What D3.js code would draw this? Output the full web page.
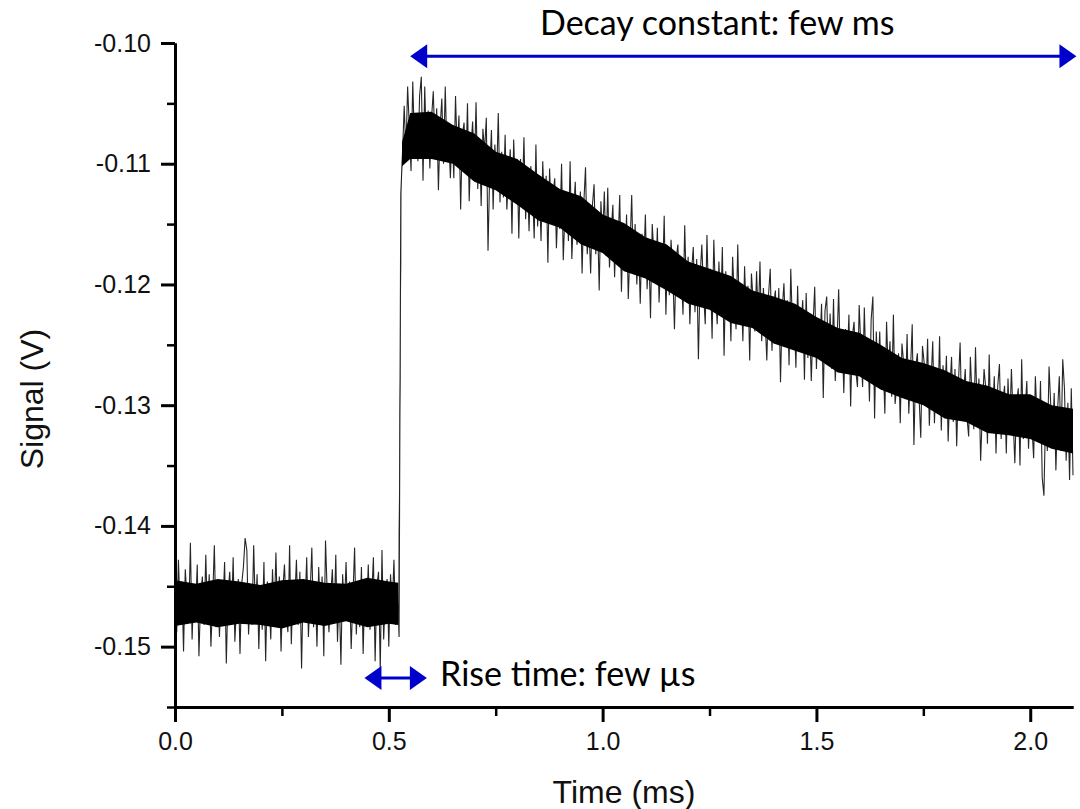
<!DOCTYPE html>
<html>
<head>
<meta charset="utf-8">
<script src="https://cdn.jsdelivr.net/npm/d3@7"></script>
<style>
  body { margin: 0; background: #fff; }
  svg { display: block; }
  .tick text { font-family: 'Liberation Sans', Arial, sans-serif; font-size: 25px; fill: #111; }
  .axis path, .axis line { stroke: #000; }
</style>
</head>
<body>
<div id="chart"></div>
<script>
// sampling interval of the trace (ms)
const timeStep = 0.004

// signal before the trigger, 0 .. 0.524 ms (V)
const preTrigger = [
  -0.1454, -0.1488, -0.1428, -0.1470, -0.1446, -0.1504, -0.1436, -0.1460, -0.1480, -0.1414,
  -0.1494, -0.1450, -0.1472, -0.1432, -0.1508, -0.1458, -0.1442, -0.1482, -0.1424, -0.1476,
  -0.1440, -0.1500, -0.1462, -0.1416, -0.1484, -0.1452, -0.1492, -0.1446, -0.1468, -0.1430,
  -0.1514, -0.1456, -0.1438, -0.1478, -0.1426, -0.1496, -0.1464, -0.1444, -0.1506, -0.1448,
  -0.1434, -0.1410, -0.1420, -0.1490, -0.1458, -0.1482, -0.1416, -0.1472, -0.1440, -0.1502,
  -0.1452, -0.1486, -0.1430, -0.1512, -0.1446, -0.1460, -0.1494, -0.1436, -0.1476, -0.1422,
  -0.1480, -0.1442, -0.1504, -0.1454, -0.1432, -0.1470, -0.1488, -0.1416, -0.1498, -0.1450,
  -0.1462, -0.1428, -0.1482, -0.1438, -0.1518, -0.1444, -0.1468, -0.1426, -0.1492, -0.1456,
  -0.1418, -0.1484, -0.1452, -0.1500, -0.1434, -0.1474, -0.1442, -0.1508, -0.1412, -0.1456,
  -0.1488, -0.1458, -0.1436, -0.1480, -0.1424, -0.1496, -0.1454, -0.1515, -0.1440, -0.1470,
  -0.1430, -0.1478, -0.1446, -0.1502, -0.1460, -0.1418, -0.1490, -0.1452, -0.1484, -0.1434,
  -0.1506, -0.1448, -0.1472, -0.1432, -0.1486, -0.1458, -0.1426, -0.1512, -0.1450, -0.1438,
  -0.1520, -0.1420, -0.1494, -0.1456, -0.1444, -0.1500, -0.1440, -0.1468, -0.1428, -0.1482,
  -0.1448, -0.1492
]

// signal from the rising edge on, 0.528 .. 2.100 ms (V)
const postTrigger = [
  -0.1125, -0.1092, -0.1052, -0.1092, -0.1036, -0.1070, -0.1106, -0.1032, -0.1084, -0.1058,
  -0.1098, -0.1044, -0.1028, -0.1114, -0.1036, -0.1088, -0.1056, -0.1104, -0.1062, -0.1040,
  -0.1086, -0.1054, -0.1122, -0.1070, -0.1046, -0.1100, -0.1036, -0.1094, -0.1078, -0.1112,
  -0.1070, -0.1112, -0.1044, -0.1092, -0.1060, -0.1138, -0.1076, -0.1066, -0.1106, -0.1050,
  -0.1131, -0.1087, -0.1065, -0.1107, -0.1049, -0.1121, -0.1079, -0.1135, -0.1071, -0.1089,
  -0.1062, -0.1172, -0.1106, -0.1072, -0.1138, -0.1084, -0.1114, -0.1058, -0.1132, -0.1090,
  -0.1128, -0.1076, -0.1138, -0.1110, -0.1088, -0.1158, -0.1080, -0.1122, -0.1096, -0.1162,
  -0.1096, -0.1130, -0.1078, -0.1146, -0.1112, -0.1156, -0.1102, -0.1122, -0.1162, -0.1084,
  -0.1152, -0.1118, -0.1164, -0.1098, -0.1138, -0.1110, -0.1182, -0.1104, -0.1146, -0.1126,
  -0.1112, -0.1170, -0.1130, -0.1154, -0.1100, -0.1180, -0.1138, -0.1124, -0.1164, -0.1098,
  -0.1179, -0.1141, -0.1115, -0.1167, -0.1153, -0.1123, -0.1191, -0.1133, -0.1103, -0.1175,
  -0.1151, -0.1191, -0.1135, -0.1117, -0.1175, -0.1145, -0.1205, -0.1131, -0.1163, -0.1123,
  -0.1176, -0.1120, -0.1186, -0.1156, -0.1134, -0.1194, -0.1148, -0.1168, -0.1126, -0.1206,
  -0.1154, -0.1182, -0.1142, -0.1212, -0.1170, -0.1126, -0.1190, -0.1150, -0.1200, -0.1164,
  -0.1216, -0.1158, -0.1186, -0.1142, -0.1204, -0.1170, -0.1228, -0.1150, -0.1176, -0.1198,
  -0.1153, -0.1215, -0.1179, -0.1197, -0.1143, -0.1225, -0.1169, -0.1209, -0.1163, -0.1189,
  -0.1237, -0.1179, -0.1167, -0.1209, -0.1191, -0.1225, -0.1151, -0.1207, -0.1177, -0.1233,
  -0.1189, -0.1169, -0.1223, -0.1179, -0.1262, -0.1193, -0.1167, -0.1207, -0.1233, -0.1159,
  -0.1217, -0.1187, -0.1245, -0.1163, -0.1209, -0.1233, -0.1181, -0.1223, -0.1169, -0.1259,
  -0.1189, -0.1227, -0.1199, -0.1247, -0.1177, -0.1211, -0.1237, -0.1167, -0.1231, -0.1203,
  -0.1247, -0.1185, -0.1227, -0.1201, -0.1263, -0.1191, -0.1213, -0.1239, -0.1189, -0.1231,
  -0.1181, -0.1247, -0.1203, -0.1229, -0.1263, -0.1209, -0.1187, -0.1255, -0.1217, -0.1205,
  -0.1249, -0.1203, -0.1281, -0.1221, -0.1199, -0.1241, -0.1213, -0.1267, -0.1187, -0.1237,
  -0.1223, -0.1269, -0.1201, -0.1253, -0.1233, -0.1213, -0.1279, -0.1207, -0.1261, -0.1231,
  -0.1280, -0.1234, -0.1202, -0.1270, -0.1228, -0.1252, -0.1216, -0.1294, -0.1222, -0.1210,
  -0.1262, -0.1224, -0.1270, -0.1212, -0.1280, -0.1250, -0.1204, -0.1268, -0.1238, -0.1290,
  -0.1237, -0.1263, -0.1225, -0.1301, -0.1243, -0.1231, -0.1271, -0.1285, -0.1217, -0.1253,
  -0.1285, -0.1219, -0.1273, -0.1247, -0.1297, -0.1229, -0.1210, -0.1311, -0.1239, -0.1279,
  -0.1239, -0.1287, -0.1261, -0.1307, -0.1231, -0.1273, -0.1247, -0.1293, -0.1225, -0.1299,
  -0.1283, -0.1257, -0.1315, -0.1249, -0.1265, -0.1295, -0.1241, -0.1307, -0.1271, -0.1233,
  -0.1333, -0.1269, -0.1257, -0.1293, -0.1327, -0.1251, -0.1265, -0.1291, -0.1245, -0.1317,
  -0.1281, -0.1247, -0.1315, -0.1273, -0.1303, -0.1243, -0.1321, -0.1267, -0.1293, -0.1259,
  -0.1330, -0.1288, -0.1260, -0.1314, -0.1270, -0.1334, -0.1282, -0.1248, -0.1312, -0.1292,
  -0.1270, -0.1310, -0.1326, -0.1260, -0.1294, -0.1320, -0.1252, -0.1308, -0.1278, -0.1346,
  -0.1306, -0.1270, -0.1286, -0.1332, -0.1258, -0.1318, -0.1304, -0.1276, -0.1340, -0.1284,
  -0.1266, -0.1328, -0.1296, -0.1284, -0.1340, -0.1278, -0.1318, -0.1270, -0.1312, -0.1348,
  -0.1298, -0.1286, -0.1350, -0.1262, -0.1328, -0.1304, -0.1280, -0.1336, -0.1294, -0.1318,
  -0.1344, -0.1276, -0.1312, -0.1330, -0.1280, -0.1360, -0.1375, -0.1306, -0.1338, -0.1268,
  -0.1300, -0.1328, -0.1290, -0.1354, -0.1304, -0.1276, -0.1338, -0.1262, -0.1286, -0.1346,
  -0.1298, -0.1362, -0.1286, -0.1358
]

// dense centre of the noise band (ms, V)
const coreTimes = [
  0, 0.05, 0.1, 0.15, 0.2, 0.25, 0.3, 0.35, 0.4, 0.45, 0.5, 0.522, 0.531,
  0.55, 0.6, 0.65, 0.7, 0.75, 0.8, 0.85, 0.9, 0.95, 1.0, 1.05, 1.1, 1.15, 1.2, 1.25, 1.3,
  1.35, 1.4, 1.45, 1.5, 1.55, 1.6, 1.65, 1.7, 1.75, 1.8, 1.85, 1.9, 1.95, 2.0, 2.05, 2.1
]
const coreUpper = [
  -0.1445, -0.1448, -0.1444, -0.1446, -0.1449, -0.1445, -0.1444, -0.1447, -0.1448, -0.1443, -0.1446, -0.1447, -0.1082,
  -0.1058, -0.1057, -0.1068, -0.1075, -0.1090, -0.1096, -0.1109, -0.1121, -0.1127, -0.1142, -0.1149, -0.1161, -0.1167, -0.1181, -0.1187, -0.1193,
  -0.1205, -0.1210, -0.1216, -0.1227, -0.1236, -0.1240, -0.1250, -0.1261, -0.1265, -0.1271, -0.1280, -0.1284, -0.1291, -0.1291, -0.1300, -0.1303
]
const coreLower = [
  -0.1483, -0.1480, -0.1484, -0.1481, -0.1482, -0.1485, -0.1480, -0.1483, -0.1479, -0.1484, -0.1481, -0.1482, -0.1102,
  -0.1096, -0.1096, -0.1100, -0.1115, -0.1122, -0.1134, -0.1147, -0.1153, -0.1167, -0.1174, -0.1189, -0.1195, -0.1205, -0.1216, -0.1221, -0.1232,
  -0.1236, -0.1249, -0.1255, -0.1261, -0.1273, -0.1276, -0.1287, -0.1294, -0.1300, -0.1311, -0.1314, -0.1323, -0.1325, -0.1328, -0.1336, -0.1340
]

const xTicks = [0, 0.5, 1.0, 1.5, 2.0]
const xMinorTicks = [0.25, 0.75, 1.25, 1.75]
const yTicks = [-0.10, -0.11, -0.12, -0.13, -0.14, -0.15]
const yMinorTicks = [-0.105, -0.115, -0.125, -0.135, -0.145, -0.155]

const labels = {
  x: 'Time (ms)',
  y: 'Signal (V)',
  decay: 'Decay constant: few ms',
  rise: 'Rise time: few µs'
}

let w = 1080,
  h = 809,
  margin = [43, 7, 102, 175] // top right bottom left

let x = d3.scaleLinear().domain([0, 2.1]).range([margin[3], w - margin[1]])
let y = d3.scaleLinear().domain([-0.155, -0.10]).range([h - margin[2], margin[0]])

let trace = preTrigger.concat(postTrigger).map((v, i) => ({ t: i * timeStep, v: v }))
let core = coreTimes.map((t, i) => ({ t: t, hi: coreUpper[i], lo: coreLower[i] }))

let svg = d3.select('#chart').append('svg')
  .attr('width', w)
  .attr('height', h)

// centre of the noise band
let area = d3.area().x(d => x(d.t)).y0(d => y(d.lo)).y1(d => y(d.hi))
svg.append('path')
  .datum(core)
  .attr('d', area)
  .attr('fill', '#000')

// trace
let line = d3.line().x(d => x(d.t)).y(d => y(d.v))
svg.append('path')
  .datum(trace)
  .attr('d', line)
  .attr('fill', 'none')
  .attr('stroke', '#000')
  .attr('stroke-opacity', 0.85)
  .attr('stroke-width', 1.1)

// axes
function styleAxis (g, width) {
  g.select('.domain').attr('stroke-width', 3)
  g.selectAll('.tick line').attr('stroke-width', width)
}

svg.append('g')
  .attr('class', 'axis')
  .attr('transform', `translate(0, ${y(-0.155)})`)
  .call(d3.axisBottom(x).tickValues(xMinorTicks).tickSize(9).tickSizeOuter(0).tickFormat(''))
  .call(g => styleAxis(g, 2.5))

svg.append('g')
  .attr('class', 'axis')
  .attr('transform', `translate(0, ${y(-0.155)})`)
  .call(d3.axisBottom(x).tickValues(xTicks).tickSize(15).tickSizeOuter(0).tickPadding(10).tickFormat(d => d.toFixed(1)))
  .call(g => styleAxis(g, 3))

svg.append('g')
  .attr('class', 'axis')
  .attr('transform', `translate(${x(0)}, 0)`)
  .call(d3.axisLeft(y).tickValues(yMinorTicks).tickSize(8).tickSizeOuter(0).tickFormat(''))
  .call(g => styleAxis(g, 2.5))

svg.append('g')
  .attr('class', 'axis')
  .attr('transform', `translate(${x(0)}, 0)`)
  .call(d3.axisLeft(y).tickValues(yTicks).tickSize(14).tickSizeOuter(0).tickPadding(10).tickFormat(d => d.toFixed(2)))
  .call(g => styleAxis(g, 3))

// axis titles
svg.append('text')
  .attr('x', (x(0) + x(2.1)) / 2)
  .attr('y', h - 6)
  .attr('text-anchor', 'middle')
  .style('font-family', "'Liberation Sans', Arial, sans-serif")
  .style('font-size', '32px')
  .style('fill', '#111')
  .text(labels.x)

svg.append('text')
  .attr('transform', `translate(43, ${(y(-0.10) + y(-0.155)) / 2 + 24}) rotate(-90)`)
  .attr('text-anchor', 'middle')
  .style('font-family', "'Liberation Sans', Arial, sans-serif")
  .style('font-size', '32px')
  .style('fill', '#111')
  .text(labels.y)

// annotations
const blue = '#0000cc'
function arrow (t0, t1, v) {
  let x0 = x(t0), x1 = x(t1), yy = y(v), hl = 17, hw = 12
  svg.append('line')
    .attr('x1', x0 + hl - 2).attr('x2', x1 - hl + 2)
    .attr('y1', yy).attr('y2', yy)
    .attr('stroke', blue)
    .attr('stroke-width', 3)
  svg.append('path')
    .attr('d', `M${x0},${yy}L${x0 + hl},${yy - hw}L${x0 + hl},${yy + hw}Z`)
    .attr('fill', blue)
  svg.append('path')
    .attr('d', `M${x1},${yy}L${x1 - hl},${yy - hw}L${x1 - hl},${yy + hw}Z`)
    .attr('fill', blue)
}

arrow(0.550, 2.108, -0.1011)
arrow(0.443, 0.589, -0.1526)

svg.append('text')
  .attr('x', x(1.268))
  .attr('y', y(-0.09934))
  .attr('text-anchor', 'middle')
  .style('font-family', 'Lato, sans-serif')
  .style('font-size', '34px')
  .style('fill', '#000')
  .text(labels.decay)

svg.append('text')
  .attr('x', x(0.62))
  .attr('y', y(-0.1533))
  .style('font-family', 'Lato, sans-serif')
  .style('font-size', '34px')
  .style('fill', '#000')
  .text(labels.rise)
</script>
</body>
</html>
